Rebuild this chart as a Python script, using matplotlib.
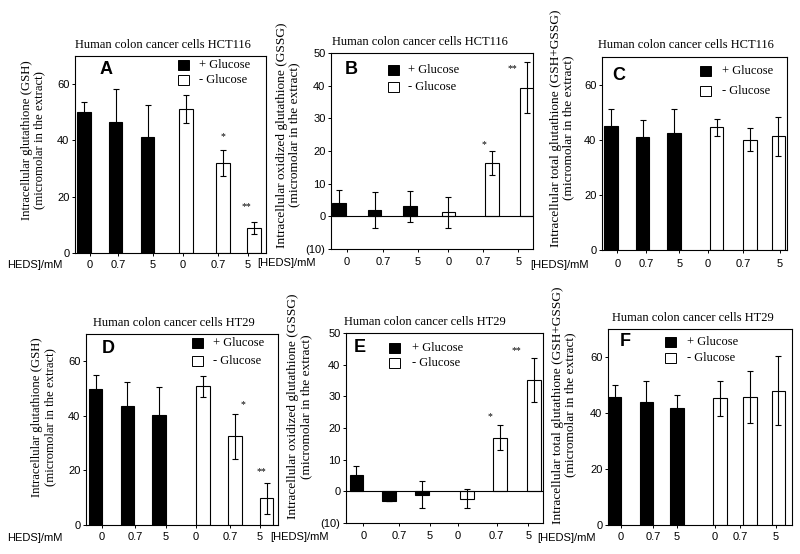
import matplotlib
matplotlib.use("Agg")
import matplotlib.pyplot as plt
from matplotlib.patches import Rectangle

SERIF = "Liberation Serif"
SANS = "Liberation Sans"
W, H = 800, 554

fig = plt.figure(figsize=(8, 5.54), dpi=100)

doses = ["0", "0.7", "5", "0", "0.7", "5"]
legend_labels = ["+ Glucose", "- Glucose"]

# first three bars: + glucose, last three: - glucose
gsh_hct116 = [50.2, 46.4, 41.3, 51.3, 32.0, 8.9]
gsh_hct116_err = [3.5, 11.8, 11.2, 5.0, 4.6, 2.1]
gssg_hct116 = [4.2, 1.9, 3.1, 1.2, 16.3, 39.4]
gssg_hct116_err = [3.8, 5.4, 4.7, 4.8, 3.6, 7.9]
tot_hct116 = [45.1, 40.9, 42.5, 44.5, 40.0, 41.2]
tot_hct116_err = [5.9, 6.4, 8.5, 3.1, 4.2, 7.1]
gsh_ht29 = [49.9, 43.5, 40.4, 50.8, 32.5, 9.8]
gsh_ht29_err = [4.9, 9.0, 10.0, 3.8, 8.2, 5.6]
gssg_ht29 = [5.1, -3.0, -1.0, -2.3, 17.0, 35.1]
gssg_ht29_err = [2.9, 0.0, 4.3, 3.1, 3.9, 7.0]
tot_ht29 = [45.7, 43.9, 41.7, 45.3, 45.7, 47.9]
tot_ht29_err = [4.4, 7.6, 4.8, 6.3, 9.2, 12.3]

t_hct = "Human colon cancer cells HCT116"
t_ht = "Human colon cancer cells HT29"
yl_gsh = "Intracellular glutathione (GSH)\n(micromolar in the extract)"
yl_gssg = "Intracellular oxidized glutathione (GSSG)\n(micromolar in the extract)"
yl_tot = "Intracellular total glutathione (GSH+GSSG)\n(micromolar in the extract)"

pos_ticks = [0, 20, 40, 60]
pos_labels = ["0", "20", "40", "60"]
neg_ticks = [-10, 0, 10, 20, 30, 40, 50]
neg_labels = ["(10)", "0", "10", "20", "30", "40", "50"]

# layout, all in pixels of the 800x554 picture
panels = [
    dict(letter="A", title=t_hct, ylabel=yl_gsh, vals=gsh_hct116, errs=gsh_hct116_err,
         box=(75, 56, 266, 253), ylim=(0, 70), yt=pos_ticks, ytl=pos_labels,
         bars=[9, 40.5, 72.5, 111, 148, 179], ticks=[15, 43, 78, 108, 143, 173], pad=2.7,
         title_xy=(163, 45), ylab=(33.5, 140, 9.2), let_xy=(106, 70),
         leg=(183, 65, 80, 199), heds=("HEDS]/mM", 7, 265),
         stars=[(222.7, 136.7, "*"), (246.7, 206.7, "**")]),
    dict(letter="B", title=t_hct, ylabel=yl_gssg, vals=gssg_hct116, errs=gssg_hct116_err,
         box=(331, 53, 533, 249), ylim=(-10, 50), yt=neg_ticks, ytl=neg_labels,
         bars=[8, 43.5, 79, 117.3, 161, 195.7], ticks=[15.7, 52.3, 86.7, 117.3, 152.3, 187.3], pad=4.1,
         title_xy=(420, 42), ylab=(288, 135, 9.6), let_xy=(351.7, 70),
         leg=(393, 70, 87.3, 408.3), heds=("[HEDS]/mM", 257, 263),
         stars=[(484, 145, "*"), (512, 68.3, "**")]),
    dict(letter="C", title=t_hct, ylabel=yl_tot, vals=tot_hct116, errs=tot_hct116_err,
         box=(602, 57, 787, 250), ylim=(0, 70), yt=pos_ticks, ytl=pos_labels,
         bars=[9, 40.7, 72, 114.7, 148, 176.3], ticks=[15.3, 44, 77.3, 105.7, 141.3, 178], pad=4.8,
         title_xy=(686, 45), ylab=(562.5, 128, 9.6), let_xy=(618.3, 76),
         leg=(705.8, 71, 90.7, 721.7), heds=("[HEDS]/mM", 530, 265), stars=[]),
    dict(letter="D", title=t_ht, ylabel=yl_gsh, vals=gsh_ht29, errs=gsh_ht29_err,
         box=(86, 334, 278, 525), ylim=(0, 70), yt=pos_ticks, ytl=pos_labels,
         bars=[9.5, 41.3, 73.2, 117, 149.2, 180.7], ticks=[15.7, 49, 79.7, 109.7, 144, 174], pad=3.4,
         title_xy=(174, 323), ylab=(43.7, 416.7, 9.2), let_xy=(108.3, 348.3),
         leg=(197, 342.7, 361, 213.3), heds=("HEDS]/mM", 7, 538),
         stars=[(242.7, 405, "*"), (261, 471.7, "**")]),
    dict(letter="E", title=t_ht, ylabel=yl_gssg, vals=gssg_ht29, errs=gssg_ht29_err,
         box=(346, 333, 543, 523), ylim=(-10, 50), yt=neg_ticks, ytl=neg_labels,
         bars=[10.3, 43, 76, 121.2, 154, 187.8], ticks=[17.3, 53, 84, 111.7, 150.7, 182.3], pad=4.1,
         title_xy=(425, 322), ylab=(299.7, 406.7, 9.6), let_xy=(360, 348),
         leg=(394.8, 348.3, 362.7, 411.7), heds=("[HEDS]/mM", 270, 536.7),
         stars=[(490, 416.7, "*"), (516.7, 351, "**")]),
    dict(letter="F", title=t_ht, ylabel=yl_tot, vals=tot_ht29, errs=tot_ht29_err,
         box=(608, 329, 792, 525), ylim=(0, 70), yt=pos_ticks, ytl=pos_labels,
         bars=[6.7, 38.3, 69, 112, 142, 170.3], ticks=[12.7, 45.3, 68.7, 107, 132, 167.7], pad=3.2,
         title_xy=(692.5, 318.3), ylab=(564, 405, 9.6), let_xy=(625, 341.7),
         leg=(670.8, 341.7, 358.3, 686.7), heds=("[HEDS]/mM", 537, 537.7), stars=[]),
]


def fx(x):
    return x / W


def fy(y):
    return 1 - y / H


for p in panels:
    l, t, r, b = p["box"]
    ax = fig.add_axes([fx(l), fy(b), (r - l) / W, (b - t) / H])
    colors = ["black"] * 3 + ["white"] * 3
    ax.bar(p["bars"], p["vals"], width=13.5, color=colors, edgecolor="black",
           linewidth=0.8, zorder=2)
    ax.errorbar(p["bars"], p["vals"], yerr=p["errs"], fmt="none", ecolor="black",
                elinewidth=0.8, capsize=2.5, capthick=0.8, zorder=3)
    if p["ylim"][0] < 0:
        ax.axhline(0, color="black", lw=0.8, zorder=4)
    ax.set_xlim(0, r - l)
    ax.set_ylim(*p["ylim"])
    ax.set_yticks(p["yt"])
    ax.set_yticklabels(p["ytl"], fontfamily=SANS, fontsize=8)
    ax.set_xticks(p["ticks"])
    ax.set_xticklabels(doses, fontfamily=SANS, fontsize=8)
    ax.tick_params(axis="y", direction="out", length=2, width=0.7, pad=2)
    ax.tick_params(axis="x", direction="out", length=2, width=0.7, pad=p["pad"])
    for s in ax.spines.values():
        s.set_linewidth(0.8)

    fig.text(fx(p["title_xy"][0]), fy(p["title_xy"][1]), p["title"], family=SERIF,
             fontsize=9, ha="center", va="center")
    yx, yy, ys = p["ylab"]
    fig.text(fx(yx), fy(yy), p["ylabel"], family=SERIF, fontsize=ys, rotation=90,
             ha="center", va="center", multialignment="center", linespacing=1.05)
    fig.text(fx(p["let_xy"][0]), fy(p["let_xy"][1]), p["letter"], family=SANS,
             fontsize=13, fontweight="bold", ha="center", va="center")

    sx, y1, y2, tx = p["leg"]
    for yy_, fc, lab in [(y1, "black", legend_labels[0]), (y2, "white", legend_labels[1])]:
        fig.patches.append(Rectangle((fx(sx - 5.5), fy(yy_ + 5)), 11 / W, 10 / H,
                                     transform=fig.transFigure, facecolor=fc,
                                     edgecolor="black", linewidth=0.7))
        fig.text(fx(tx), fy(yy_), lab, family=SERIF, fontsize=9, ha="left", va="center")

    htxt, hx, hy = p["heds"]
    fig.text(fx(hx), fy(hy), htxt, family=SANS, fontsize=8, ha="left", va="center")

    for sx_, sy_, st in p["stars"]:
        fig.text(fx(sx_), fy(sy_), st, family=SERIF, fontsize=7, ha="center", va="center")

fig.savefig("out.png", dpi=100)
